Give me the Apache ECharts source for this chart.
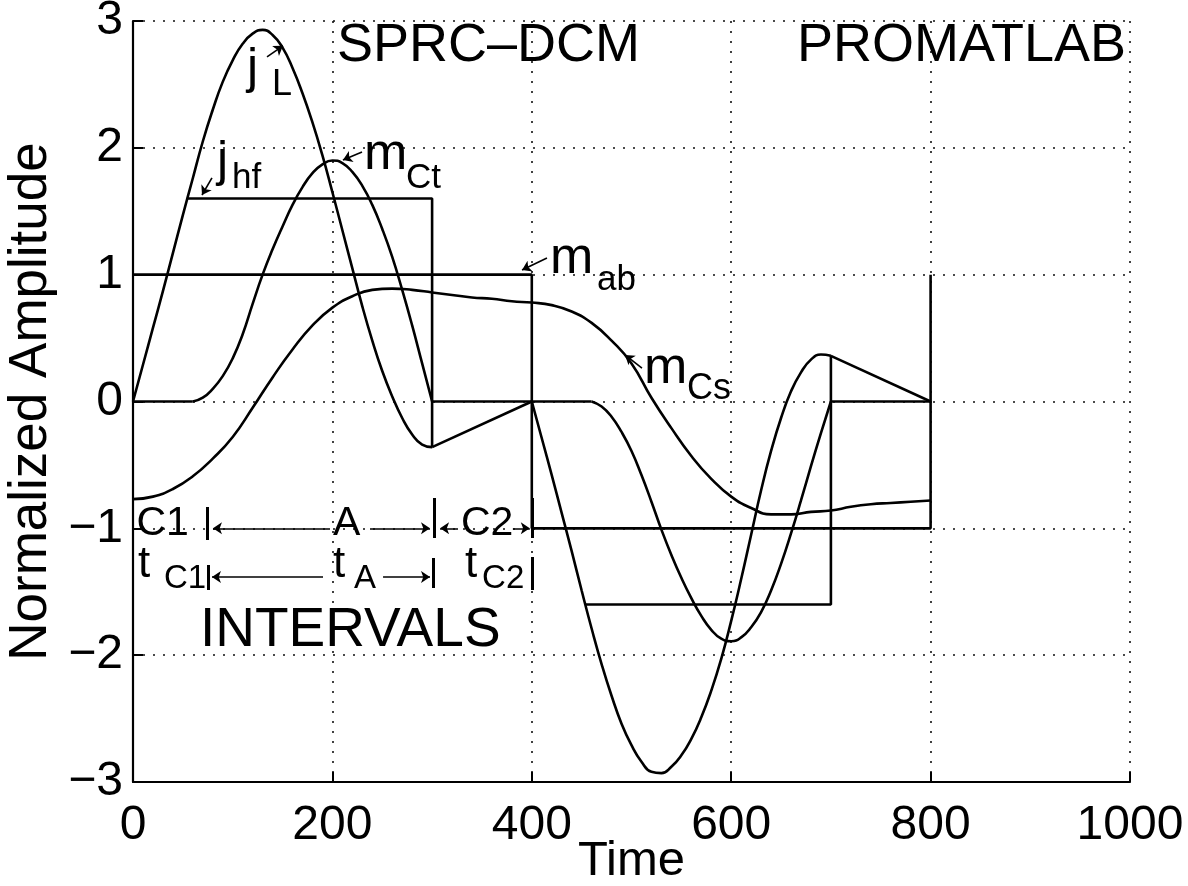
<!DOCTYPE html>
<html>
<head>
<meta charset="utf-8">
<script src="https://cdn.jsdelivr.net/npm/echarts@6/dist/echarts.min.js"></script>
<style>
  html, body { margin: 0; padding: 0; background: #fff; }
  #chart { width: 1188px; height: 886px; }
</style>
</head>
<body>
<div id="chart"></div>
<script>
// ---- axes ----
const xTicks = [0, 200, 400, 600, 800, 1000];
const yTicks = [-3, -2, -1, 0, 1, 2, 3];

// ---- tank current j_L : resonant arcs (first and second half-cycle) ----
const tFirst  = [0,10,20,30,40,50,60,70,80,90,100,110,120,130,140,150,160,170,180,190,200,210,220,230,240,250,260,270,280,290,300];
const jLFirst = [0,0.29,0.58,0.87,1.17,1.47,1.76,2.05,2.30,2.52,2.69,2.82,2.90,2.93,2.89,2.79,2.63,2.43,2.20,1.94,1.65,1.35,1.05,0.75,0.48,0.24,0.04,-0.13,-0.26,-0.34,-0.36];
const tSecond  = [400,410,420,430,440,450,460,470,480,490,500,510,520,530,540,550,560,570,580,590,600,610,620,630,640,650,660,670,680,690,700];
const jLSecond = [0,-0.29,-0.58,-0.88,-1.18,-1.49,-1.79,-2.07,-2.32,-2.54,-2.71,-2.84,-2.92,-2.93,-2.88,-2.79,-2.66,-2.49,-2.28,-2.03,-1.73,-1.40,-1.05,-0.70,-0.39,-0.13,0.08,0.23,0.33,0.37,0.36];
// linear decay of j_L during the C2 intervals
const jLRampFirst  = [[300, -0.36], [400, 0]];
const jLRampSecond = [[700, 0.36], [800, 0]];

// ---- transformer voltage m_Ct ----
const tCtFirst = [60,70,80,90,100,110,120,130,140,150,160,170,180,190,200,210,220,230,240,250,260,270,280,290,300];
const mCtFirst = [0,0.03,0.10,0.20,0.34,0.53,0.77,1.00,1.20,1.38,1.55,1.69,1.80,1.87,1.90,1.88,1.81,1.70,1.55,1.36,1.14,0.88,0.60,0.30,0];
const tCtSecond = [460,470,480,490,500,510,520,530,540,550,560,570,580,590,600,610,620,630,640,650,660,670,680,690,700];
const mCtSecond = [0,-0.04,-0.12,-0.24,-0.39,-0.58,-0.79,-1.01,-1.21,-1.39,-1.55,-1.69,-1.80,-1.87,-1.89,-1.86,-1.78,-1.66,-1.49,-1.28,-1.04,-0.78,-0.51,-0.25,0];
// m_Ct held at zero between the active intervals
const mCtIdle = [[[0, 0], [60, 0]], [[300, 0], [460, 0]], [[700, 0], [800, 0]]];

// ---- series capacitor voltage m_Cs ----
const tCs = [0,20,40,60,80,100,120,140,160,180,200,220,240,260,280,300,320,340,360,380,400,420,440,460,480,500,520,540,560,580,600,620,640,660,680,700,720,740,760,780,800];
const mCs = [-0.77,-0.75,-0.69,-0.59,-0.45,-0.28,-0.05,0.19,0.41,0.60,0.74,0.83,0.88,0.89,0.88,0.86,0.84,0.82,0.81,0.79,0.78,0.76,0.71,0.62,0.48,0.30,0.03,-0.21,-0.43,-0.61,-0.75,-0.84,-0.89,-0.89,-0.87,-0.86,-0.83,-0.81,-0.80,-0.79,-0.78];

// ---- bridge voltage m_ab (square wave) ----
const mabStep = [[0, 1], [400, 1], [400, -1], [800, -1], [800, 1]];

// ---- clamped high-frequency current j_hf ----
const jhfFirst  = [[54, 1.6], [300, 1.6], [300, -0.36]];
const jhfSecond = [[454, -1.6], [700, -1.6], [700, 0.36]];

// ---- text annotations: [time, amplitude (baseline), text, size, align] ----
const notes = [
  [204.6, 2.653, 'SPRC\u2013DCM', 54, 'left'],
  [996, 2.653, 'PROMATLAB', 54, 'right'],
  [114.3, 2.480, 'j', 50, 'left'],
  [139.4, 2.393, 'L', 36, 'left'],
  [84.3, 1.746, 'j', 50, 'left'],
  [99.3, 1.667, 'hf', 35, 'left'],
  [231.7, 1.802, 'm', 52, 'left'],
  [273.8, 1.667, 'Ct', 35, 'left'],
  [418.3, 0.982, 'm', 52, 'left'],
  [465.4, 0.863, 'ab', 35, 'left'],
  [512.5, 0.114, 'm', 52, 'left'],
  [555.7, -0.004, 'Cs', 36, 'left'],
  [3.5, -1.076, 'C1', 41, 'left'],
  [200.6, -1.076, 'A', 41, 'left'],
  [329.0, -1.076, 'C2', 41, 'left'],
  [5.0, -1.407, 't', 44, 'left'],
  [31.1, -1.486, 'C1', 33, 'left'],
  [200.6, -1.407, 't', 44, 'left'],
  [221.7, -1.486, 'A', 33, 'left'],
  [333.0, -1.407, 't', 44, 'left'],
  [350.1, -1.486, 'C2', 33, 'left'],
  [67.2, -1.959, 'INTERVALS', 55, 'left']
];

// leader arrows: [fromT, fromV, toT, toV]
const arrows = [
  [134.4, 2.717, 150.4, 2.804],
  [79.2, 1.763, 69.2, 1.628],
  [229.7, 1.968, 210.6, 1.904],
  [415.2, 1.132, 390.2, 1.037],
  [510.5, 0.264, 493.5, 0.367],
  [197.6, -1.0, 80.2, -1.0],
  [237.7, -1.0, 297.9, -1.0],
  [326.0, -1.0, 308.0, -1.0],
  [381.0, -1.0, 398.0, -1.0],
  [190.6, -1.384, 79.2, -1.384],
  [250.8, -1.384, 297.9, -1.384]
];

// interval boundary bars: [t, fromV, toV]
const bars = [
  [74.2, -0.832, -1.092],
  [301.9, -0.761, -1.076],
  [400.2, -0.761, -1.076],
  [75.0, -1.289, -1.487],
  [300.9, -1.234, -1.471],
  [400.2, -1.226, -1.487]
];

const FONT = '"Liberation Sans", Arial, Helvetica, sans-serif';
const zip = (t, v) => t.map((x, i) => [x, v[i]]);

const curveStyle = { color: '#000', width: 2.6 };
function curve(data, smooth) {
  return {
    type: 'line', data: data, smooth: smooth, symbol: 'none',
    lineStyle: curveStyle, silent: true, animation: false, z: 3
  };
}

const series = [
  curve(zip(tFirst, jLFirst), true),
  curve(zip(tSecond, jLSecond), true),
  curve(jLRampFirst, false),
  curve(jLRampSecond, false),
  curve(zip(tCtFirst, mCtFirst), true),
  curve(zip(tCtSecond, mCtSecond), true),
  ...mCtIdle.map(seg => curve(seg, false)),
  curve(zip(tCs, mCs), true),
  curve(mabStep, false),
  curve(jhfFirst, false),
  curve(jhfSecond, false),
  {
    type: 'lines', coordinateSystem: 'cartesian2d',
    symbol: ['none', 'arrow'], symbolSize: 9,
    lineStyle: { color: '#000', width: 1.6, opacity: 1, curveness: 0 },
    data: arrows.map(a => ({ coords: [[a[0], a[1]], [a[2], a[3]]] })),
    silent: true, animation: false, z: 6
  },
  {
    type: 'lines', coordinateSystem: 'cartesian2d',
    symbol: 'none',
    lineStyle: { color: '#000', width: 3, opacity: 1, curveness: 0 },
    data: bars.map(b => ({ coords: [[b[0], b[1]], [b[0], b[2]]] })),
    silent: true, animation: false, z: 6
  },
  {
    type: 'custom', coordinateSystem: 'cartesian2d',
    data: notes.map(n => [n[0], n[1]]),
    clip: false, silent: true, animation: false, z: 10,
    renderItem: function (params, api) {
      const n = notes[params.dataIndex];
      const p = api.coord([n[0], n[1]]);
      return {
        type: 'text',
        x: p[0],
        y: p[1] - 0.3467 * n[3],
        style: {
          text: n[2], fill: '#000',
          font: n[3] + 'px ' + FONT,
          align: n[4], verticalAlign: 'middle'
        }
      };
    }
  }
];

const axisCommon = {
  type: 'value',
  nameMoveOverlap: false,
  axisLine: { show: true, onZero: false, lineStyle: { color: '#000', width: 2.2 } },
  axisTick: { show: true, inside: true, length: 10, lineStyle: { color: '#000', width: 2 } },
  splitLine: { show: true, lineStyle: { color: '#111', width: 1.6, type: [2, 8] } },
  axisLabel: { color: '#000', fontSize: 48, fontFamily: FONT }
};

const chart = echarts.init(document.getElementById('chart'), null, { renderer: 'canvas' });
chart.setOption({
  animation: false,
  backgroundColor: '#fff',
  grid: { left: 133, right: 58, top: 21, bottom: 104, containLabel: false, outerBoundsMode: 'none' },
  xAxis: Object.assign({}, axisCommon, {
    min: xTicks[0], max: xTicks[xTicks.length - 1], interval: xTicks[1] - xTicks[0],
    axisLabel: Object.assign({}, axisCommon.axisLabel, { margin: 20, formatter: v => String(v) }),
    name: 'Time', nameLocation: 'middle', nameGap: 55,
    nameTextStyle: { color: '#000', fontSize: 49, fontFamily: FONT }
  }),
  yAxis: Object.assign({}, axisCommon, {
    min: yTicks[0], max: yTicks[yTicks.length - 1], interval: yTicks[1] - yTicks[0],
    axisLabel: Object.assign({}, axisCommon.axisLabel, {
      margin: 10,
      formatter: v => String(v).replace('-', '\u2212')
    }),
    name: 'Normalized Amplitude', nameLocation: 'middle', nameGap: 75, nameRotate: 90,
    nameTextStyle: { color: '#000', fontSize: 53, fontFamily: FONT }
  }),
  series: series
});
</script>
</body>
</html>
